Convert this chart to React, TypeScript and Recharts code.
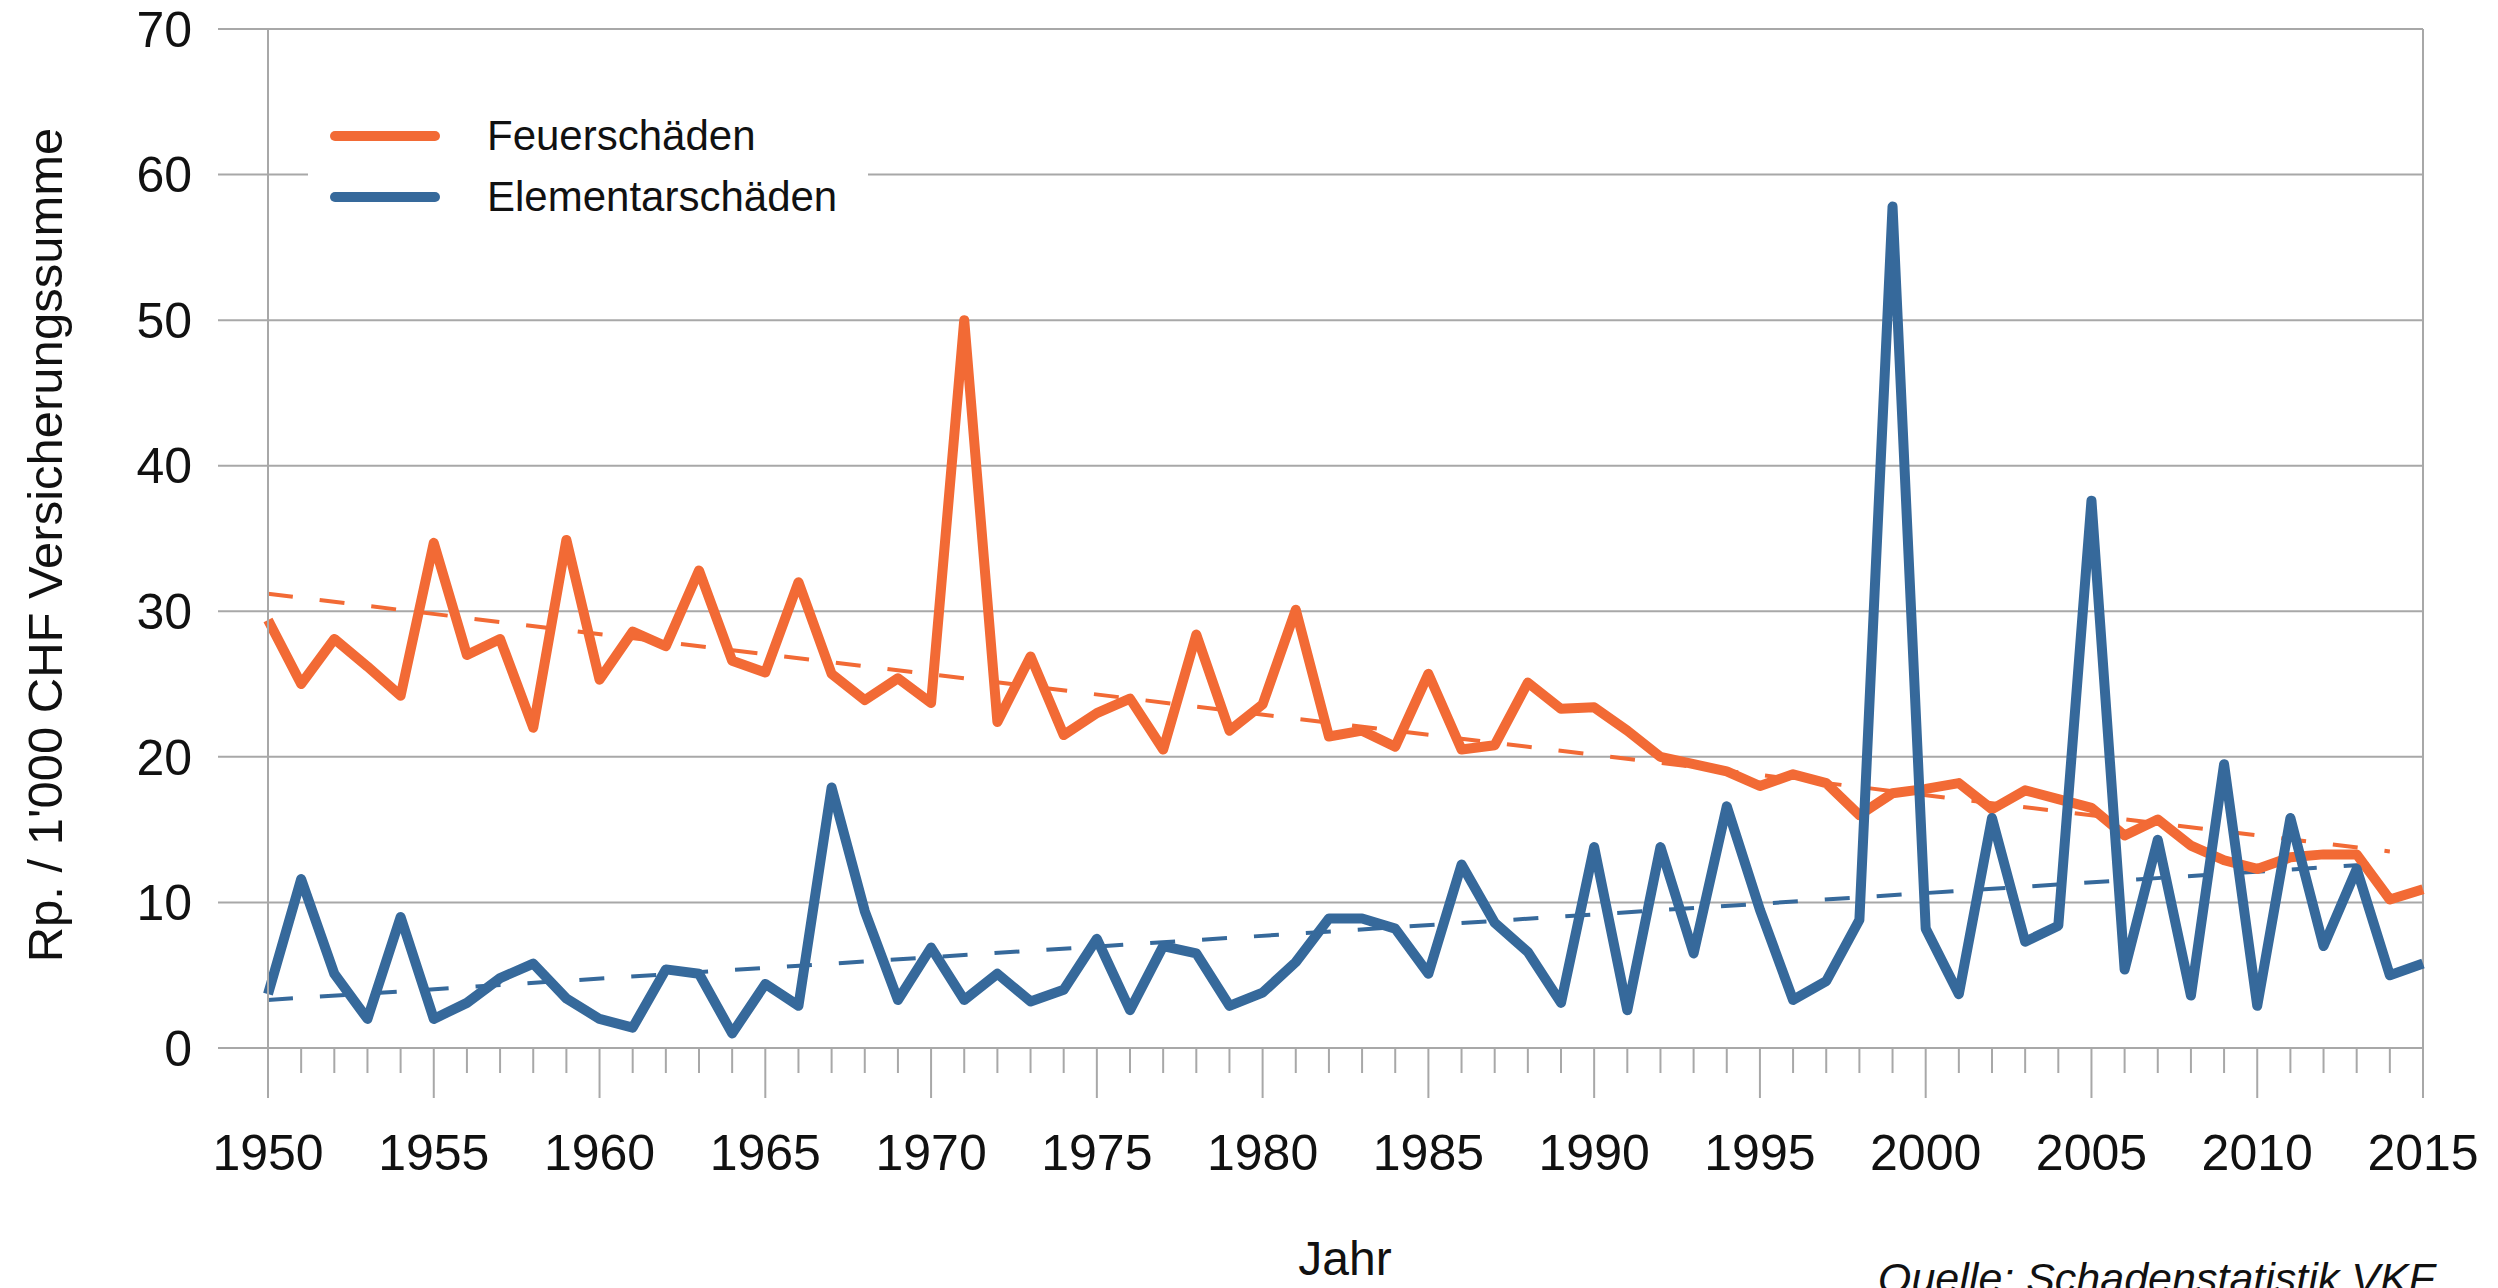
import { LineChart, Line, XAxis, YAxis, CartesianGrid, ReferenceLine, Legend } from "recharts";

const years = [
  1950, 1951, 1952, 1953, 1954, 1955, 1956, 1957, 1958, 1959,
  1960, 1961, 1962, 1963, 1964, 1965, 1966, 1967, 1968, 1969,
  1970, 1971, 1972, 1973, 1974, 1975, 1976, 1977, 1978, 1979,
  1980, 1981, 1982, 1983, 1984, 1985, 1986, 1987, 1988, 1989,
  1990, 1991, 1992, 1993, 1994, 1995, 1996, 1997, 1998, 1999,
  2000, 2001, 2002, 2003, 2004, 2005, 2006, 2007, 2008, 2009,
  2010, 2011, 2012, 2013, 2014, 2015,
];

// Feuerschäden, Rp. / 1'000 CHF
const feuer = [
  29.4, 25.0, 28.1, 26.2, 24.2, 34.7, 27.0, 28.1, 22.0, 34.9,
  25.3, 28.6, 27.6, 32.8, 26.6, 25.8, 32.0, 25.7, 23.9, 25.4,
  23.7, 50.0, 22.4, 26.9, 21.5, 23.0, 24.0, 20.5, 28.4, 21.8,
  23.6, 30.1, 21.4, 21.8, 20.7, 25.7, 20.5, 20.8, 25.1, 23.3,
  23.4, 21.8, 20.0, 19.5, 19.0, 18.0, 18.8, 18.2, 16.0, 17.5,
  17.8, 18.2, 16.4, 17.7, 17.1, 16.5, 14.6, 15.7, 13.9, 12.9,
  12.3, 13.1, 13.3, 13.3, 10.2, 10.9,
];

// Elementarschäden, Rp. / 1'000 CHF
const elementar = [
  3.7, 11.6, 5.1, 2.0, 9.0, 2.0, 3.1, 4.8, 5.8, 3.4,
  2.0, 1.4, 5.4, 5.1, 1.0, 4.4, 2.9, 17.9, 9.4, 3.3,
  6.9, 3.3, 5.1, 3.2, 4.0, 7.5, 2.6, 7.0, 6.5, 2.9,
  3.8, 5.9, 8.9, 8.9, 8.2, 5.1, 12.6, 8.6, 6.6, 3.1,
  13.8, 2.6, 13.8, 6.5, 16.6, 9.5, 3.3, 4.6, 8.8, 57.8,
  8.2, 3.7, 15.8, 7.3, 8.4, 37.6, 5.4, 14.3, 3.6, 19.5,
  2.9, 15.8, 7.0, 12.3, 5.0, 5.8,
];

// linear trend lines, start and end points
const trendYears = [1950, 2014];
const feuerTrend = [31.2, 13.5];
const elementarTrend = [3.3, 12.7];

const yTicks = [0, 10, 20, 30, 40, 50, 60, 70];

const ORANGE = "#f26a35";
const BLUE = "#36699b";
const GRID = "#a8a8a8";
const FONT = "'Liberation Sans', Arial, sans-serif";

const data = years.map((year, i) => {
  const t = trendYears.indexOf(year);
  return {
    year,
    feuer: feuer[i],
    elementar: elementar[i],
    feuerTrend: t >= 0 ? feuerTrend[t] : null,
    elementarTrend: t >= 0 ? elementarTrend[t] : null,
  };
});

const YearTick = (props: any) => {
  const { x, y, payload } = props;
  const major = payload.value % 5 === 0;
  return (
    <g>
      <line x1={x} x2={x} y1={y} y2={y + (major ? 50 : 25)} stroke={GRID} strokeWidth={2} />
      {major && (
        <text x={x} y={y + 122} textAnchor="middle" fontSize={50} fill="#111" fontFamily={FONT}>
          {payload.value}
        </text>
      )}
    </g>
  );
};

const renderLegend = () => (
  <div style={{ width: 560, height: 135, background: "#fff", position: "relative", fontFamily: FONT }}>
    {[
      { name: "Feuerschäden", color: ORANGE, top: 36 },
      { name: "Elementarschäden", color: BLUE, top: 97 },
    ].map((e) => (
      <div key={e.name} style={{ position: "absolute", left: 0, top: e.top - 25, height: 50, display: "flex", alignItems: "center" }}>
        <div style={{ marginLeft: 22, width: 110, height: 10, borderRadius: 5, background: e.color }} />
        <span style={{ marginLeft: 47, fontSize: 42, color: "#111", whiteSpace: "nowrap" }}>{e.name}</span>
      </div>
    ))}
  </div>
);

export default function App() {
  return (
    <div style={{ position: "absolute", left: 0, top: 0, width: 2498, height: 1288, background: "#fff", overflow: "hidden" }}>
      <LineChart width={2498} height={1288} data={data} margin={{ top: 29, right: 75, bottom: 0, left: 0 }}>
        <CartesianGrid vertical={false} stroke={GRID} strokeWidth={2} />
        <XAxis
          dataKey="year"
          type="number"
          domain={[1950, 2015]}
          ticks={years}
          interval={0}
          height={240}
          tickLine={false}
          tickSize={0}
          tickMargin={0}
          axisLine={{ stroke: GRID, strokeWidth: 2 }}
          tick={<YearTick />}
        />
        <YAxis
          width={268}
          domain={[0, 70]}
          ticks={yTicks}
          interval={0}
          tickSize={50}
          tickMargin={26}
          tickLine={{ stroke: GRID, strokeWidth: 2 }}
          axisLine={{ stroke: GRID, strokeWidth: 2 }}
          tick={{ fontSize: 50, fill: "#111", fontFamily: FONT }}
        />
        <ReferenceLine x={2015} stroke={GRID} strokeWidth={2} />
        <Legend
          layout="vertical"
          align="center"
          verticalAlign="middle"
          content={renderLegend}
          wrapperStyle={{ left: 308, top: 100, width: 560, height: 135 }}
        />
        <Line dataKey="feuerTrend" stroke={ORANGE} strokeWidth={4} strokeDasharray="25 27" dot={false} connectNulls isAnimationActive={false} legendType="none" />
        <Line dataKey="elementarTrend" stroke={BLUE} strokeWidth={4} strokeDasharray="25 27" dot={false} connectNulls isAnimationActive={false} legendType="none" />
        <Line dataKey="feuer" name="Feuerschäden" stroke={ORANGE} strokeWidth={10} strokeLinejoin="round" dot={false} isAnimationActive={false} />
        <Line dataKey="elementar" name="Elementarschäden" stroke={BLUE} strokeWidth={10} strokeLinejoin="round" dot={false} isAnimationActive={false} />
      </LineChart>
      <div
        style={{
          position: "absolute",
          left: 45,
          top: 545,
          transform: "translate(-50%, -50%) rotate(-90deg)",
          whiteSpace: "nowrap",
          fontFamily: FONT,
          fontSize: 49,
          color: "#111",
        }}
      >
        Rp. / 1'000 CHF Versicherungssumme
      </div>
      <div
        style={{
          position: "absolute",
          left: 1345,
          top: 1235,
          lineHeight: 1,
          transform: "translateX(-50%)",
          whiteSpace: "nowrap",
          fontFamily: FONT,
          fontSize: 48,
          color: "#111",
        }}
      >
        Jahr
      </div>
      <div
        style={{
          position: "absolute",
          left: 1878,
          top: 1257,
          lineHeight: 1,
          whiteSpace: "nowrap",
          fontFamily: FONT,
          fontStyle: "italic",
          fontSize: 43,
          color: "#111",
        }}
      >
        Quelle: Schadenstatistik VKF
      </div>
    </div>
  );
}
